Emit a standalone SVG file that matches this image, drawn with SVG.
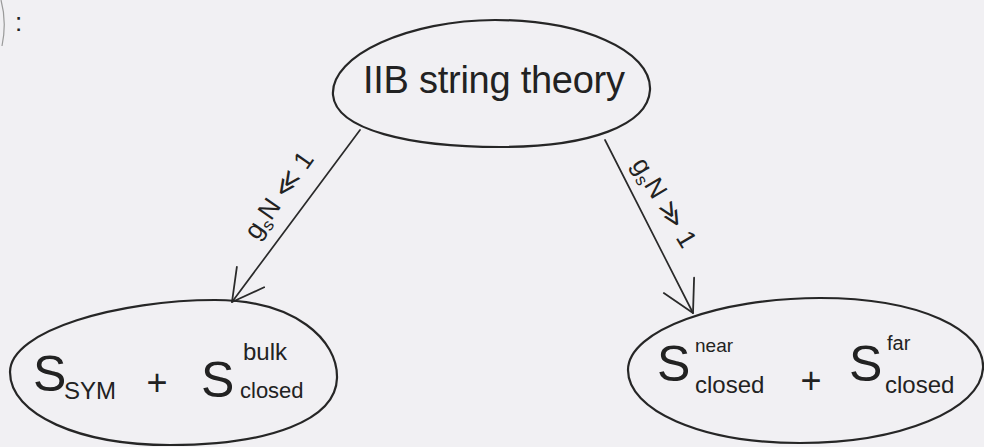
<svg xmlns="http://www.w3.org/2000/svg" width="984" height="447" viewBox="0 0 984 447">
  <style>
    .bg { fill: #f1f0f3; }
    .node { fill: none; stroke: #262626; stroke-width: 2.2; stroke-linejoin: round; }
    .edge { fill: none; stroke: #2a2a2a; stroke-width: 1.7; stroke-linecap: round; }
    .t { font-family: "Liberation Sans", "DejaVu Sans", sans-serif; fill: #222; }
    .big { font-size: 50px; }
    .sub { font-size: 24px; }
    .sup { font-size: 19px; }
    .plus { font-size: 36px; text-anchor: middle; }
    .lbl { font-size: 26px; text-anchor: middle; }
  </style>
  <defs>
    <marker id="arrow" markerUnits="userSpaceOnUse" viewBox="-34 -20 40 40" refX="0" refY="0" markerWidth="40" markerHeight="40" orient="auto" overflow="visible">
      <path d="M-31,-17 L0,0 L-31,17" fill="none" stroke="#2a2a2a" stroke-width="1.8" stroke-linecap="round" stroke-linejoin="round"/>
    </marker>
  </defs>
  <rect class="bg" x="0" y="0" width="984" height="447"/>

  <g id="corner">
    <path d="M1,0 Q7,22 2,46" fill="none" stroke="#9a9a9a" stroke-width="1.2"/>
    <text class="t" x="15" y="31" font-size="26">:</text>
  </g>

  <g id="edges">
    <g id="edge-left">
      <path class="edge" d="M360,130 L232,302" marker-end="url(#arrow)"/>
      <text class="t lbl" transform="translate(286,200) rotate(-55)" textLength="100" lengthAdjust="spacing">g<tspan dy="5" font-size="17">s</tspan><tspan dy="-5">N ≪ 1</tspan></text>
    </g>
    <g id="edge-right">
      <path class="edge" d="M605,140 L693,313" marker-end="url(#arrow)"/>
      <text class="t lbl" transform="translate(657,207) rotate(59)" textLength="100" lengthAdjust="spacing">g<tspan dy="5" font-size="17">s</tspan><tspan dy="-5">N ≫ 1</tspan></text>
    </g>
  </g>

  <g id="node-top">
    <path class="node" d="M333,95 C330,55 410,20 495,20 C580,20 652,50 650,90 C648,125 590,147 500,147 C410,147 336,130 333,95 Z"/>
    <text class="t" x="363" y="93" font-size="38" textLength="262" lengthAdjust="spacing">IIB string theory</text>
  </g>

  <g id="node-left">
    <path class="node" d="M10,372 C10,330 120,300 215,300 C295,300 338,340 337,378 C336,420 270,445 170,445 C80,445 10,415 10,372 Z"/>
    <text class="t big" x="33" y="391">S</text>
    <text class="t sub" x="64" y="399">SYM</text>
    <text class="t plus" x="157" y="395">+</text>
    <text class="t big" x="201" y="397">S</text>
    <text class="t sub" x="243" y="360">bulk</text>
    <text class="t" x="240" y="398" font-size="22">closed</text>
  </g>

  <g id="node-right">
    <path class="node" d="M628,370 C628,330 720,298 820,298 C920,298 985,330 983,368 C981,410 900,443 800,443 C700,443 628,410 628,370 Z"/>
    <text class="t big" x="657" y="381">S</text>
    <text class="t sup" x="695" y="352">near</text>
    <text class="t sub" x="695" y="393">closed</text>
    <text class="t plus" x="811" y="393">+</text>
    <text class="t big" x="849" y="381">S</text>
    <text class="t" x="887" y="350" font-size="20">far</text>
    <text class="t sub" x="885" y="393">closed</text>
  </g>
</svg>
